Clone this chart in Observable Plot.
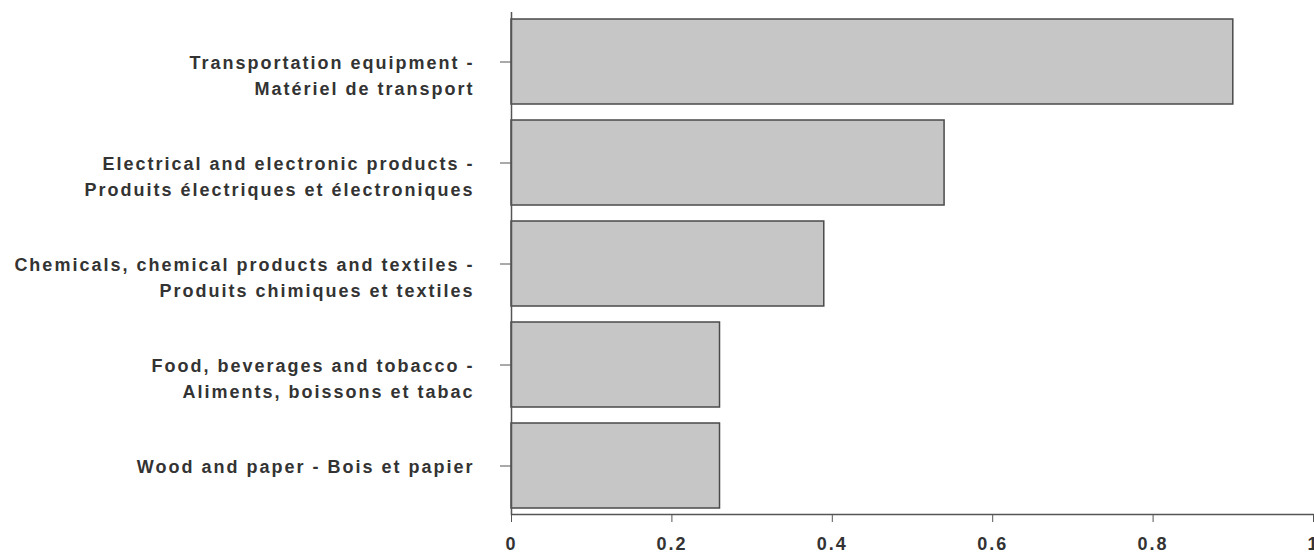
<!DOCTYPE html>
<html>
<head>
<meta charset="utf-8">
<script src="https://cdn.jsdelivr.net/npm/d3@7"></script>
<script src="https://cdn.jsdelivr.net/npm/@observablehq/plot@0.6"></script>
<style>
  html, body { margin: 0; padding: 0; background: #fff; }
  svg { font-family: "Liberation Sans", Arial, sans-serif; }
</style>
</head>
<body>
<div id="chart"></div>
<script>
const categories = [
  "Transportation equipment -\nMatériel de transport",
  "Electrical and electronic products -\nProduits électriques et électroniques",
  "Chemicals, chemical products and textiles -\nProduits chimiques et textiles",
  "Food, beverages and tobacco -\nAliments, boissons et tabac",
  "Wood and paper - Bois et papier"
];
const values = [0.90, 0.54, 0.39, 0.26, 0.26];
const xTicks = [0, 0.2, 0.4, 0.6, 0.8, 1];
const xTickLabels = ["0", "0.2", "0.4", "0.6", "0.8", "1"];

const data = categories.map((c, i) => ({category: c, value: values[i]}));

const chart = Plot.plot({
  width: 1314,
  height: 553,
  marginLeft: 511,
  marginRight: 1,
  marginTop: 12,
  marginBottom: 39,
  style: {fontFamily: "'Liberation Sans', Arial, sans-serif", background: "#fff"},
  x: {domain: [0, 1]},
  y: {domain: categories, paddingInner: 0.16, paddingOuter: 0.06},
  marks: [
    Plot.barX(data, {x: "value", y: "category", fill: "#c6c6c6", stroke: "#4a4a4a", strokeWidth: 1.5}),
    Plot.ruleX([0], {stroke: "#555", strokeWidth: 1.5}),
    Plot.frame({anchor: "bottom", stroke: "#555", strokeWidth: 1.5}),
    Plot.axisY({
      tickSize: 11,
      text: null,
      stroke: "#555",
      label: null
    }),
    Plot.axisY({
      tickSize: 0,
      tickPadding: 37,
      fill: "#333",
      fontSize: 18,
      fontWeight: "bold",
      lineAnchor: "top",
      lineHeight: 1.45,
      dy: -12,
      label: null
    }),
    Plot.axisX({
      ticks: xTicks,
      tickFormat: (d) => xTickLabels[xTicks.indexOf(d)],
      tickSize: 8,
      tickPadding: 15,
      stroke: "#555",
      fill: "#333",
      fontSize: 18,
      fontWeight: "bold",
      label: null
    })
  ]
});
chart.querySelectorAll("text").forEach(t => t.style.letterSpacing = "2px");
document.getElementById("chart").appendChild(chart);
</script>
</body>
</html>
